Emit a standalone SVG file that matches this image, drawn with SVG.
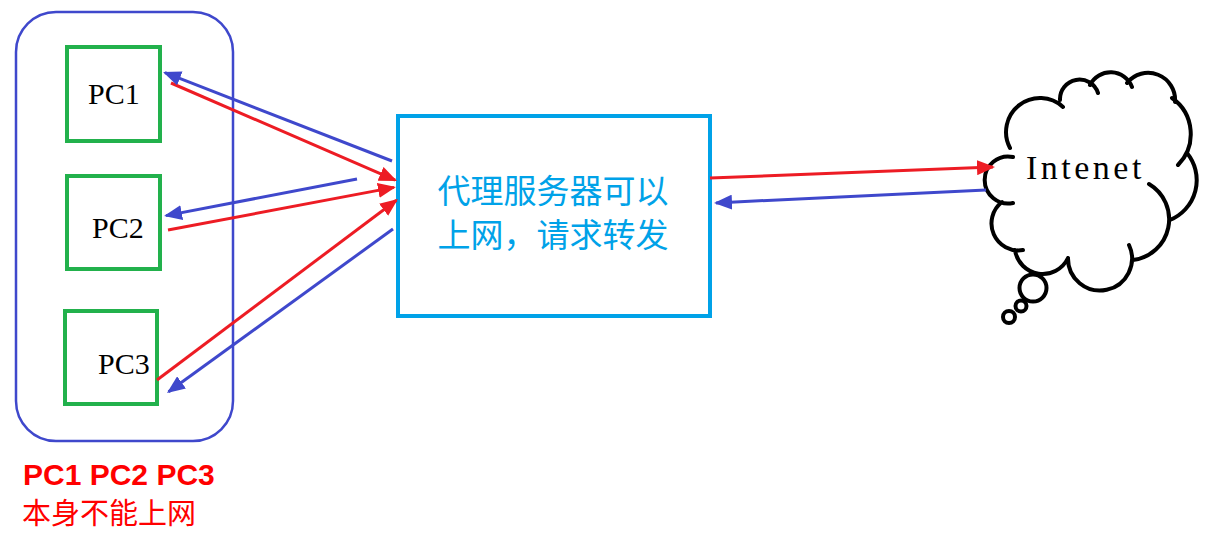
<svg xmlns="http://www.w3.org/2000/svg" width="1231" height="536" viewBox="0 0 1231 536">
<style>
.pc{fill:#fff;stroke:#22b14c;stroke-width:4}
.pct{font-family:"Liberation Serif",serif;font-size:30px;fill:#000}
.req{stroke:#ed1c24;stroke-width:3;fill:none;marker-end:url(#ar)}
.rsp{stroke:#3f48cc;stroke-width:3;fill:none;marker-end:url(#ab)}
.cloud{fill:none;stroke:#000;stroke-width:4;stroke-linecap:round}
.cjk{font-family:"Noto Sans CJK SC","Noto Sans CJK JP",sans-serif}
</style>
<defs>
<marker id="ar" viewBox="0 0 18 15" refX="16" refY="7.5" markerWidth="18" markerHeight="15" markerUnits="userSpaceOnUse" orient="auto"><path d="M0,0 L18,7.5 L0,15 z" fill="#ed1c24"/></marker>
<marker id="ab" viewBox="0 0 18 15" refX="16" refY="7.5" markerWidth="18" markerHeight="15" markerUnits="userSpaceOnUse" orient="auto"><path d="M0,0 L18,7.5 L0,15 z" fill="#3f48cc"/></marker>
</defs>
<rect width="1231" height="536" fill="#fff"/>
<g id="group">
<rect x="16" y="12" width="217" height="429" rx="40" ry="40" fill="none" stroke="#3f48cc" stroke-width="2.5"/>
</g>
<g id="pc1"><rect class="pc" x="67" y="47" width="93" height="94"/><text class="pct" x="88" y="104">PC1</text></g>
<g id="pc2"><rect class="pc" x="67" y="176" width="93" height="93"/><text class="pct" x="92" y="238">PC2</text></g>
<g id="pc3"><rect class="pc" x="65" y="311" width="92" height="93"/><text class="pct" x="98" y="374">PC3</text></g>
<g id="proxy">
<rect x="398" y="116" width="312" height="200" fill="#fff" stroke="#00a2e8" stroke-width="4"/>
<text class="cjk" x="553" y="203" font-size="33" fill="#00a2e8" text-anchor="middle">代理服务器可以</text>
<text class="cjk" x="553" y="247" font-size="33" fill="#00a2e8" text-anchor="middle">上网，请求转发</text>
</g>
<g id="internet">
<path class="cloud" d="M1063,107 A34,34 0 0,0 1010,148 M1013,157 A23.5,23.5 0 1,0 1013,203 M1002,202 A27,27 0 0,0 1023,250 M1015,250 A28,28 0 0,0 1068,258 M1068,258 A32,32 0 1,0 1129,245 M1133,260 A41,41 0 0,0 1149,184 M1170,220 A43,43 0 0,0 1187,153 M1178,165 A44,44 0 0,0 1172,98 M1175,102 A27,27 0 0,0 1127,83 M1132,87 A23,23 0 0,0 1090,85 M1098,93 A19.5,19.5 0 0,0 1060,100"/>
<circle class="cloud" cx="1033" cy="288" r="13.5"/>
<circle class="cloud" cx="1021" cy="306" r="5.5"/>
<circle class="cloud" cx="1009" cy="317" r="6"/>
<text x="1026" y="179" font-family="Liberation Serif,serif" font-size="34" letter-spacing="3.5" fill="#000">Intenet</text>
</g>
<g id="connectors">
<line class="req" x1="171" y1="83" x2="395.2" y2="180.2"/>
<line class="req" x1="168" y1="230" x2="394" y2="187.4"/>
<line class="req" x1="157" y1="380" x2="396.4" y2="200.2"/>
<line class="req" x1="710" y1="178" x2="993" y2="167.1"/>
<line class="rsp" x1="392" y1="161" x2="164.9" y2="72.7"/>
<line class="rsp" x1="357" y1="179" x2="166" y2="215.6"/>
<line class="rsp" x1="393" y1="229" x2="168.6" y2="391.8"/>
<line class="rsp" x1="986" y1="190" x2="716" y2="202.9"/>
</g>
<g id="note">
<text x="23" y="485" font-family="Liberation Sans,sans-serif" font-weight="bold" font-size="30" fill="#ff0000">PC1 PC2 PC3</text>
<text class="cjk" x="22" y="524" font-size="29" fill="#ff0000">本身不能上网</text>
</g>
</svg>
